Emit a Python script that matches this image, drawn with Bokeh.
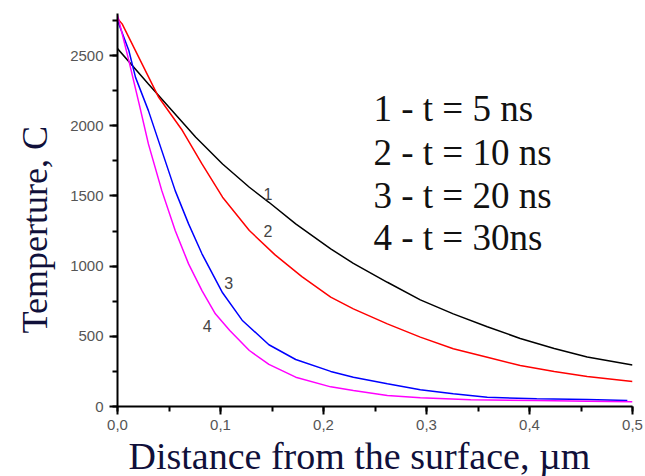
from bokeh.plotting import figure
from bokeh.models import Range1d, SingleIntervalTicker, CustomJSTickFormatter, Label, Title
from bokeh.embed import file_html
from bokeh.resources import INLINE

# Curve 1: t = 5 ns
x1 = [0.0, 0.03, 0.076, 0.102, 0.128, 0.147, 0.173, 0.207, 0.229, 0.262, 0.294, 0.326, 0.359, 0.391, 0.424, 0.456, 0.5]
t1 = [2550, 2298, 1918, 1728, 1562, 1455, 1301, 1123, 1020, 885, 760, 660, 568, 485, 413, 352, 295]
# Curve 2: t = 10 ns
x2 = [0.0, 0.0045, 0.040, 0.063, 0.082, 0.102, 0.128, 0.153, 0.179, 0.207, 0.229, 0.262, 0.294, 0.326, 0.359, 0.391, 0.424, 0.456, 0.5]
t2 = [2765, 2726, 2203, 1966, 1728, 1491, 1254, 1080, 925, 779, 696, 589, 494, 411, 351, 292, 249, 214, 178]
# Curve 3: t = 20 ns
x3 = [0.0, 0.011, 0.0175, 0.030, 0.043, 0.056, 0.069, 0.082, 0.102, 0.121, 0.147, 0.173, 0.207, 0.229, 0.262, 0.294, 0.326, 0.359, 0.407, 0.456, 0.495]
t3 = [2750, 2536, 2345, 2108, 1823, 1538, 1301, 1088, 810, 615, 440, 335, 250, 209, 162, 119, 90, 66, 55, 50, 43]
# Curve 4: t = 30 ns
x4 = [0.0, 0.011, 0.021, 0.030, 0.043, 0.056, 0.069, 0.082, 0.095, 0.109, 0.128, 0.147, 0.173, 0.207, 0.229, 0.262, 0.294, 0.343, 0.407, 0.456, 0.5]
t4 = [2790, 2464, 2156, 1871, 1538, 1254, 1016, 826, 660, 541, 399, 300, 209, 140, 114, 78, 62, 48, 43, 38, 33]

curve_ids = ["1", "2", "3", "4"]
curve_label_x = [0.146, 0.146, 0.108, 0.087]
curve_label_y = [1514, 1250, 879, 571]
legend_lines = ["1 - t = 5 ns", "2 - t = 10 ns", "3 - t = 20 ns", "4 - t = 30ns"]
legend_y = [2123, 1809, 1503, 1204]
legend_x = 0.2485
x_title = "Distance from the surface, \u00b5m"
y_title = "Temperture, C"

p = figure(width=645, height=476, output_backend="svg", toolbar_location=None,
           x_range=Range1d(0, 0.5), y_range=Range1d(0, 2800),
           min_border_left=117, min_border_right=13, min_border_top=13, min_border_bottom=70)
p.outline_line_color = None
p.xgrid.grid_line_color = None
p.ygrid.grid_line_color = None
p.background_fill_color = "white"
p.border_fill_color = "white"

for xs, ts, c in [(x1, t1, "black"), (x2, t2, "#ff0000"), (x3, t3, "#0000ff"), (x4, t4, "#ff00ff")]:
    p.line(xs, ts, line_color=c, line_width=1.5)

p.xaxis.ticker = SingleIntervalTicker(interval=0.1, num_minor_ticks=2)
p.yaxis.ticker = SingleIntervalTicker(interval=500, num_minor_ticks=2)
p.xaxis.formatter = CustomJSTickFormatter(code="return tick.toFixed(1).replace('.', ',');")

for ax in [p.xaxis[0], p.yaxis[0]]:
    ax.axis_line_width = 2
    ax.major_tick_line_width = 2
    ax.minor_tick_line_width = 2
    ax.major_tick_out = 8
    ax.major_tick_in = 0
    ax.minor_tick_out = 5
    ax.minor_tick_in = 0
    ax.major_label_text_font = "Liberation Sans"
    ax.major_label_text_font_size = "15px"
    ax.major_label_text_color = "#555555"
p.xaxis.major_label_standoff = 5
p.yaxis.major_label_standoff = 6

title_color = "#10103a"
xt = Title(text=x_title, align="left", offset=11, standoff=0, text_font="Liberation Serif",
           text_font_size="38px", text_font_style="normal", text_color=title_color, text_line_height=1.0)
p.add_layout(xt, "below")
yt = Title(text=y_title, align="left", offset=73, standoff=25, text_font="Liberation Serif",
           text_font_size="36px", text_font_style="normal", text_color=title_color, text_line_height=1.0)
p.add_layout(yt, "left")

for cid, lx, ly in zip(curve_ids, curve_label_x, curve_label_y):
    p.add_layout(Label(x=lx, y=ly, text=cid, text_align="center", text_baseline="middle",
                       text_font="Liberation Sans", text_font_size="16px", text_color="#444444"))

for txt, ly in zip(legend_lines, legend_y):
    p.add_layout(Label(x=legend_x, y=ly, text=txt, text_align="left", text_baseline="alphabetic",
                       text_font="Liberation Serif", text_font_size="37px", text_color="#111111"))

open("out.html", "w").write(file_html(p, INLINE))
